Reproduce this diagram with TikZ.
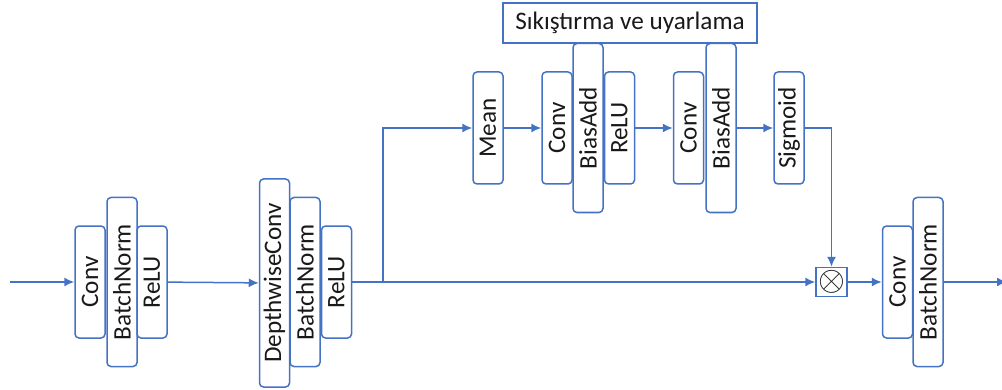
\documentclass[tikz,border=0pt]{standalone}
\usepackage{fontspec}
\setmainfont{Carlito}
\usetikzlibrary{shapes,arrows.meta}

\definecolor{lineblue}{RGB}{68,114,196}

\begin{document}
\begin{tikzpicture}[>={Latex[length=5pt,width=4.5pt]}, x=0.5pt, y=-0.5pt,
    every node/.style={font=\fontsize{12.6}{15}\selectfont, text=black!90},
    link/.style={->, draw=lineblue, line width=0.75pt},
    layer/.style={draw=lineblue, line width=0.75pt, rounded corners=2pt, rotate=90, inner sep=0pt, minimum height=15pt},
    shortbox/.style={layer, minimum width=56pt},
    longbox/.style={layer, minimum width=84.5pt}]
\useasboundingbox (0,0) rectangle (1002,390);
% first block
\node[shortbox] (conv1) at (90,282) {Conv};
\node[longbox] (bn1) at (122,282) {BatchNorm};
\node[shortbox] (relu1) at (152,282) {ReLU};
% depthwise block
\node[layer, minimum width=104pt] (dw) at (274.5,283) {DepthwiseConv};
\node[longbox] (bn2) at (305,282) {BatchNorm};
\node[shortbox] (relu2) at (336.5,282) {ReLU};
% squeeze and excite
\node[shortbox] (mean) at (488,128) {Mean};
\node[shortbox] (seconv1) at (557,128) {Conv};
\node[longbox] (bias1) at (588,128) {BiasAdd};
\node[shortbox] (serelu) at (619.5,128) {ReLU};
\node[shortbox] (seconv2) at (688.5,128) {Conv};
\node[longbox] (bias2) at (721,128) {BiasAdd};
\node[shortbox] (sig) at (789,128) {Sigmoid};
\node[draw=lineblue, line width=0.75pt, inner sep=0pt, minimum width=127pt, minimum height=20pt] (title) at (630,23) {Sıkıştırma ve uyarlama};
% multiply and projection
\node[draw=lineblue, line width=0.75pt, inner sep=0pt, minimum width=15.5pt, minimum height=14.5pt, font=\fontsize{16}{16}\selectfont] (mul) at (831.5,282) {$\otimes$};
\node[shortbox] (conv3) at (897.5,282) {Conv};
\node[longbox] (bn3) at (928,282) {BatchNorm};

\coordinate (in) at (10,282);
\coordinate (split) at (383,282);
\coordinate (out) at (1007,282);

% connectors
\draw[link] (in) -- (conv1);
\draw[link] (relu1) -- (dw);
\draw[link] (relu2) -- (mul);
\draw[link] (split) |- (mean);
\draw[link] (mean) -- (seconv1);
\draw[link] (serelu) -- (seconv2);
\draw[link] (bias2) -- (sig);
\draw[link] (sig) -| (mul);
\draw[link] (mul) -- (conv3);
\draw[link] (bn3) -- (out);
\end{tikzpicture}
\end{document}
